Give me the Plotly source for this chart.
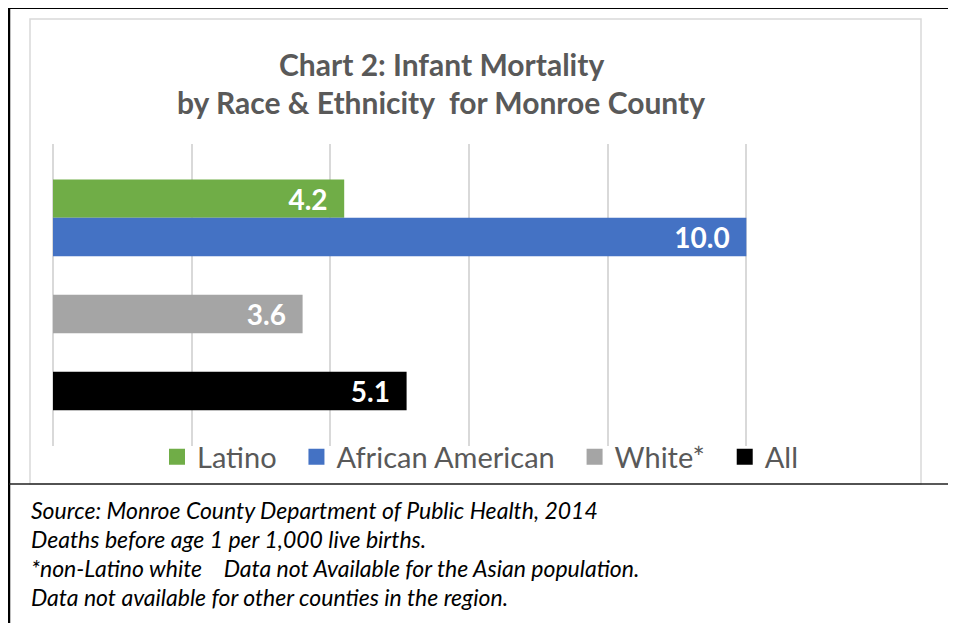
import plotly.graph_objects as go

# ---- data ----
series = ["Latino", "African American", "White*", "All"]
values = [4.2, 10.0, 3.6, 5.1]
colors = ["#70AD47", "#4472C4", "#A5A5A5", "#000000"]
# category slots (blank strings are empty spacer slots, as in the original layout)
slots = ["Latino", "African American", " ", "White*", "  ", "All"]
x_ticks = [0, 2, 4, 6, 8, 10, 12]

title_1 = "Chart 2: Infant Mortality"
title_2 = "by Race & Ethnicity  for Monroe County"
notes = [
    "Source: Monroe County Department of Public Health, 2014",
    "Deaths before age 1 per 1,000 live births.",
    "*non-Latino white    Data not Available for the Asian population.",
    "Data not available for other counties in the region.",
]

OFF = 8  # page body margin
W, H = 956 - OFF, 623 - OFF
L, R, T, B = 53 - OFF, 885 - OFF, 144 - OFF, 446 - OFF  # plot area in figure pixels


def px(x):
    return (x - OFF - L) / (R - L)


def py(y):
    return (B - (y - OFF)) / (B - T)


fig = go.Figure()
for name, v, c in zip(series, values, colors):
    fig.add_trace(go.Bar(
        y=[name], x=[v], name=name, orientation="h",
        marker=dict(color=c, line=dict(width=0)),
        width=1.0,
        text=[f"{v:.1f}"],
        texttemplate="%{text}\u00a0\u00a0",
        textposition="inside", insidetextanchor="end",
        constraintext="none",
        textfont=dict(family="Lato", size=28, color="white", weight="bold"),
        cliponaxis=False, showlegend=False,
    ))

# legend entries (square swatches) built from the same series
for i, (name, c) in enumerate(zip(series, colors)):
    label = name + ("\u00a0\u00a0" if i < len(series) - 1 else "")
    fig.add_trace(go.Scatter(
        x=[None], y=[None], mode="markers", name=label,
        marker=dict(symbol="square", size=17, color=c, line=dict(width=0)),
        showlegend=True, hoverinfo="skip",
    ))

shapes = [
    # inner light-gray chart border
    dict(type="rect", xref="paper", yref="paper",
         x0=px(30), x1=px(921), y0=py(484), y1=py(19),
         line=dict(color="#D9D9D9", width=1.5), layer="below"),
    # outer black frame
    dict(type="line", xref="paper", yref="paper",
         x0=px(9), x1=px(970), y0=py(8), y1=py(8),
         line=dict(color="black", width=2)),
    dict(type="line", xref="paper", yref="paper",
         x0=px(9), x1=px(9), y0=py(8), y1=py(630),
         line=dict(color="black", width=2.5)),
    dict(type="line", xref="paper", yref="paper",
         x0=px(9), x1=px(970), y0=py(484), y1=py(484),
         line=dict(color="#222222", width=1.5)),
]

annotations = [
    dict(text=title_1, x=px(441), y=py(64), xref="paper", yref="paper",
         showarrow=False, xanchor="center", yanchor="middle",
         font=dict(family="Lato", size=30, color="#595959", weight="bold")),
    dict(text=title_2, x=px(441), y=py(102.5), xref="paper", yref="paper",
         showarrow=False, xanchor="center", yanchor="middle",
         font=dict(family="Lato", size=30, color="#595959", weight="bold")),
]
for i, n in enumerate(notes):
    annotations.append(dict(
        text=f"<i>{n}</i>", x=px(29), y=py(509.5 + i * 29.2), xref="paper", yref="paper",
        showarrow=False, xanchor="left", yanchor="middle",
        font=dict(family="Lato", size=23, color="black")))

fig.update_layout(
    width=W, height=H,
    margin=dict(l=L, r=W - R, t=T, b=H - B, pad=0),
    paper_bgcolor="white", plot_bgcolor="white",
    barmode="overlay",
    showlegend=True,
    legend=dict(orientation="h", x=px(480), xanchor="center", y=py(457), yanchor="middle",
                font=dict(family="Lato", size=29, color="#595959"),
                bgcolor="rgba(0,0,0,0)", itemclick=False, itemdoubleclick=False,
                traceorder="normal"),
    xaxis=dict(range=[0, 12], tickvals=x_ticks, showticklabels=False,
               showgrid=True, gridcolor="#D9D9D9", gridwidth=1.5,
               zeroline=True, zerolinecolor="#D9D9D9", zerolinewidth=1.5,
               showline=False, fixedrange=True),
    yaxis=dict(type="category", categoryorder="array", categoryarray=slots,
               range=[len(slots) - 1 + 1.43, -1.42],
               showticklabels=False, showgrid=False, zeroline=False, showline=False,
               fixedrange=True),
    shapes=shapes,
    annotations=annotations,
)

fig.write_html("out.html")
